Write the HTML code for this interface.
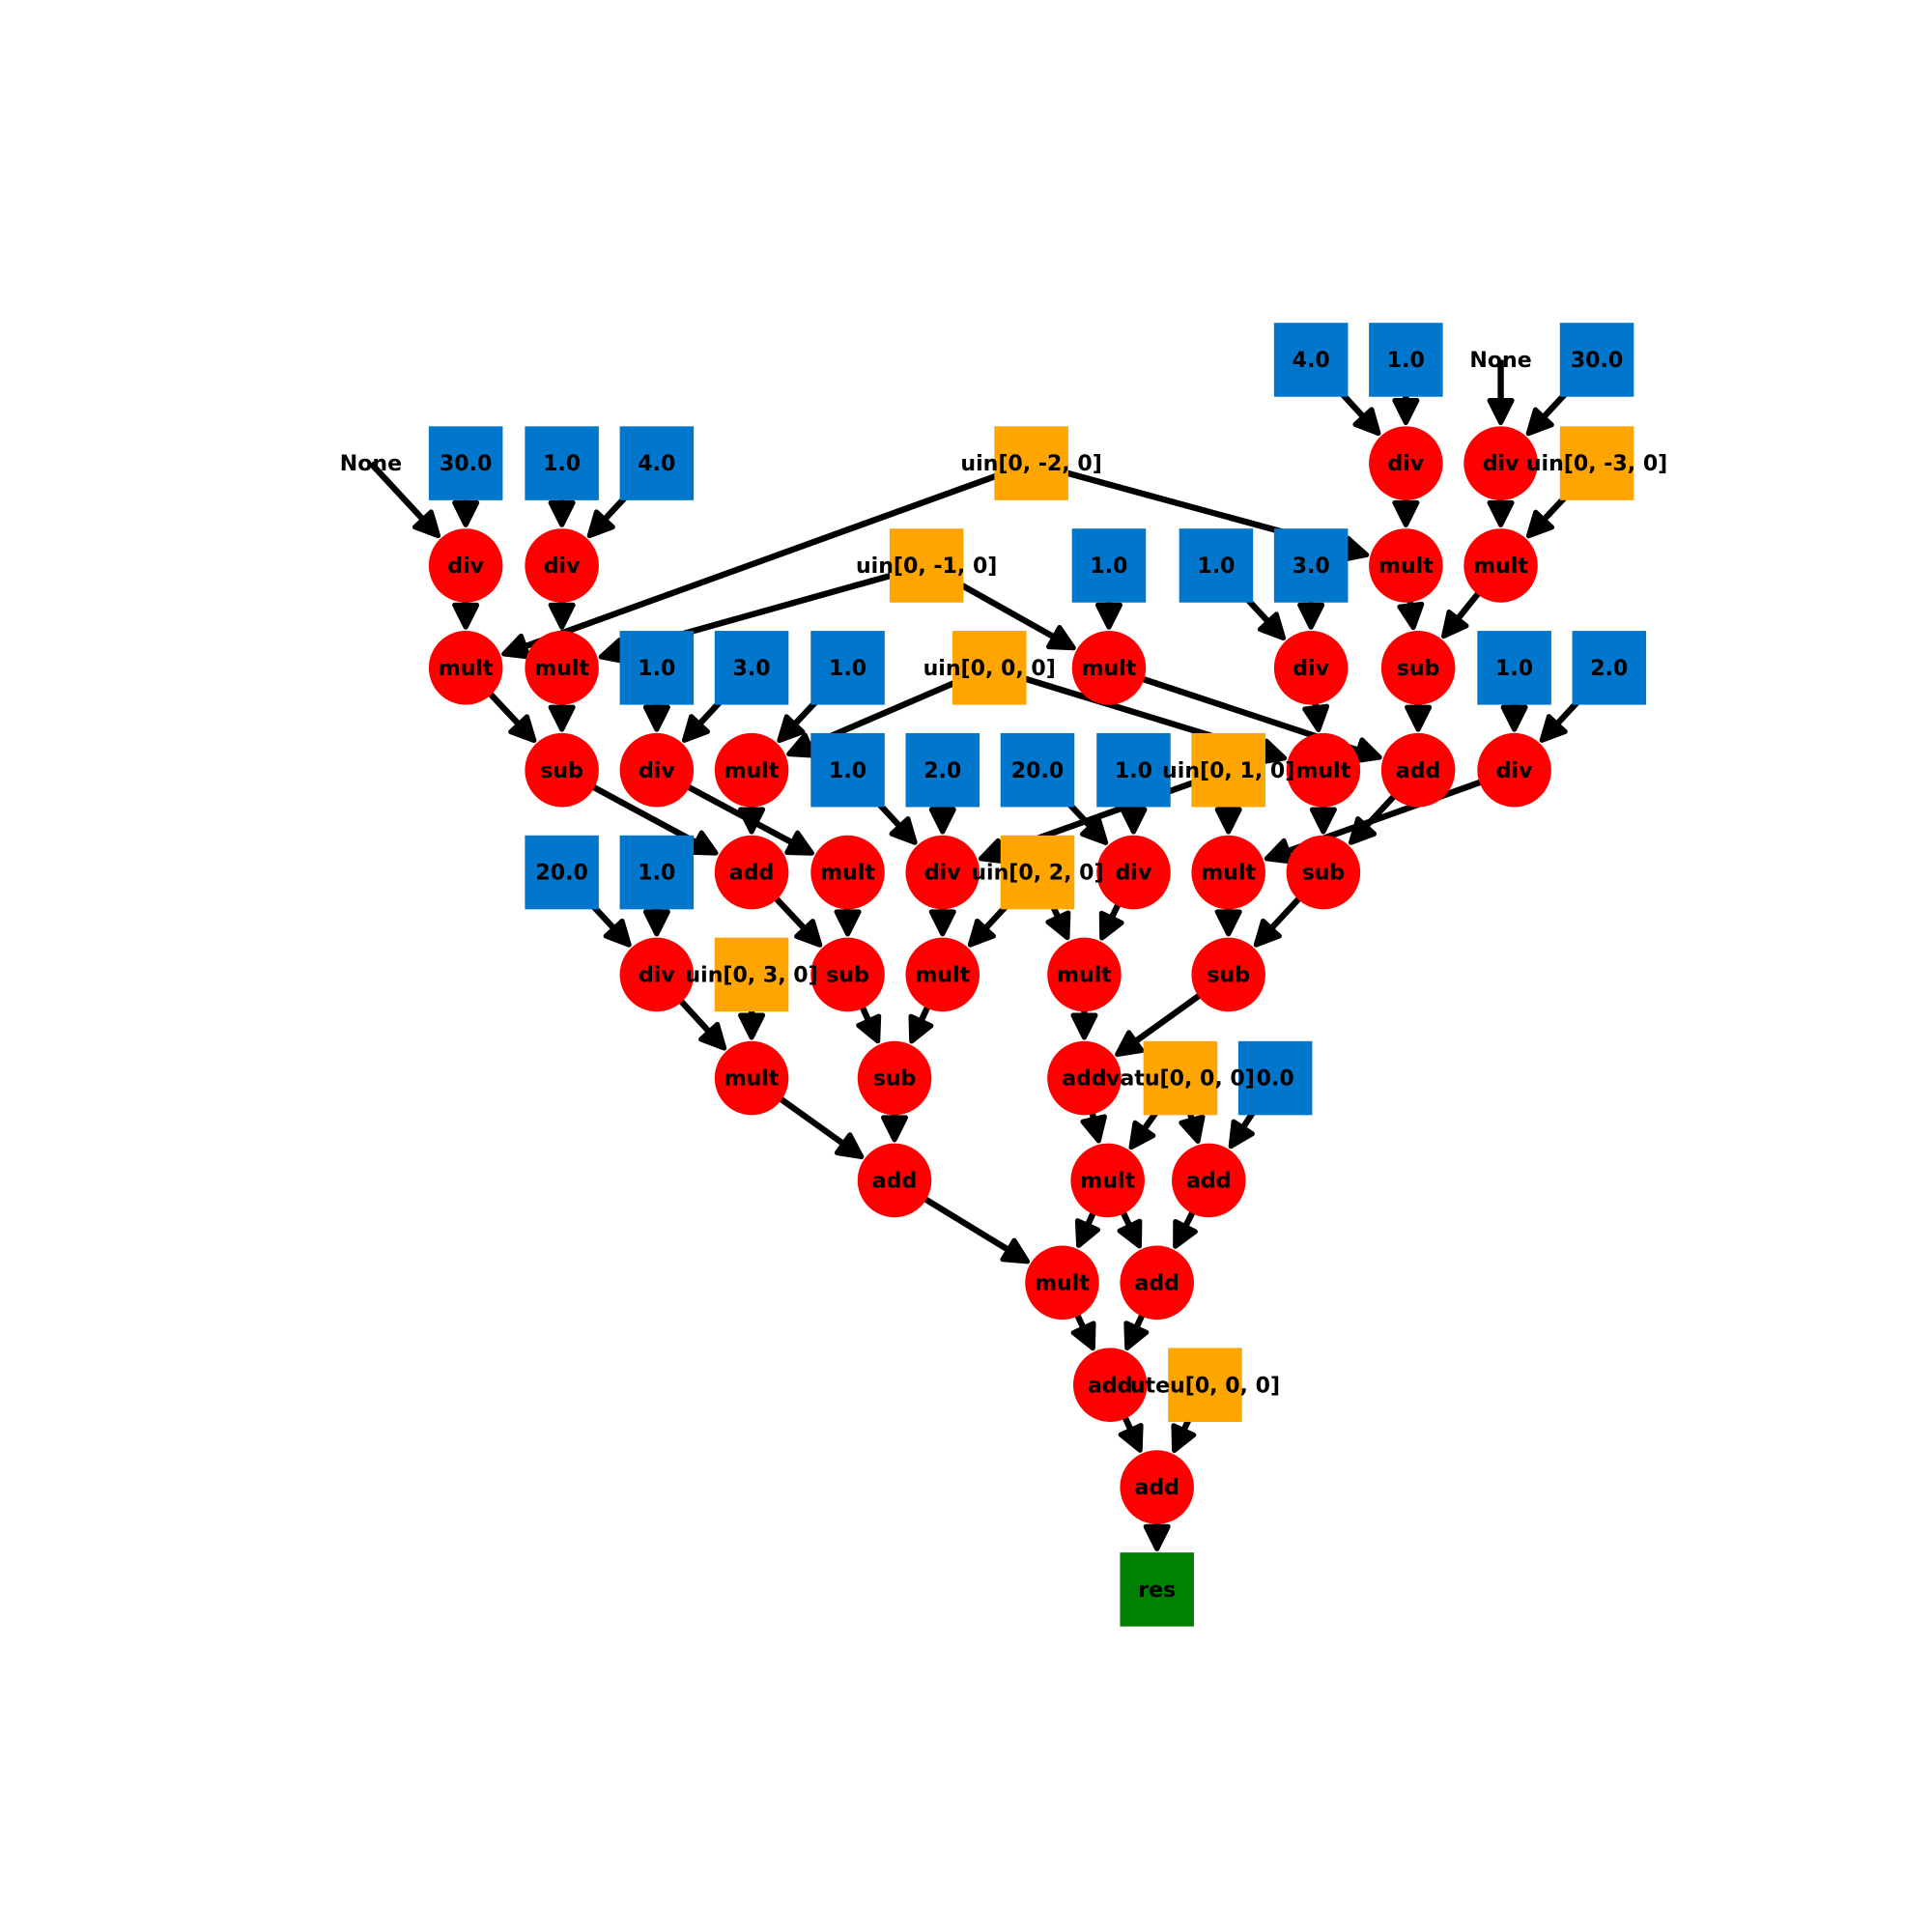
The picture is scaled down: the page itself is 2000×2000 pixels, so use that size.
<!DOCTYPE html>
<html><head><meta charset="utf-8"><style>
html,body{margin:0;padding:0;background:#fff}
svg{display:block}
text{font-family:"DejaVu Sans","Liberation Sans",sans-serif;font-weight:bold;font-size:17.3px;fill:#000}
</style></head><body>
<svg id="g" width="2000" height="2000" viewBox="0 0 1568 1568" xmlns="http://www.w3.org/2000/svg">
<g id="edges"></g>
<g id="nodes"></g>
<g id="labels"></g>
</svg>
<script>
const nodeIds = [];
const nodeLabels = [];
const nodeKinds = [];
const nodeX = [];
const nodeY = [];
const nodeList = [
["b4a","4.0","b",1064,292],["b1a","1.0","b",1141,292],["nA","None","t",1218,292],["b30a","30.0","b",1296,292],
["nB","None","t",301,376],["b30b","30.0","b",378,376],["b1b","1.0","b",456,376],["b4b","4.0","b",533,376],["um2","uin[0, -2, 0]","o",837,376],["dA","div","c",1141,376],["dB","div","c",1218,376],["um3","uin[0, -3, 0]","o",1296,376],
["dC","div","c",378,459],["dD","div","c",456,459],["um1","uin[0, -1, 0]","o",752,459],["b1c","1.0","b",900,459],["b1d","1.0","b",987,459],["b3a","3.0","b",1064,459],["mA","mult","c",1141,459],["mB","mult","c",1218,459],
["mC","mult","c",378,542],["mD","mult","c",456,542],["b1e","1.0","b",533,542],["b3b","3.0","b",610,542],["b1f","1.0","b",688,542],["u0","uin[0, 0, 0]","o",803,542],["mE","mult","c",900,542],["dE","div","c",1064,542],["sA","sub","c",1151,542],["b1g","1.0","b",1229,542],["b2a","2.0","b",1306,542],
["sB","sub","c",456,625],["dF","div","c",533,625],["mF","mult","c",610,625],["b1h","1.0","b",688,625],["b2b","2.0","b",765,625],["b20a","20.0","b",842,625],["b1i","1.0","b",920,625],["u1","uin[0, 1, 0]","o",997,625],["mG","mult","c",1074,625],["aA","add","c",1151,625],["dG","div","c",1229,625],
["b20b","20.0","b",456,708],["b1j","1.0","b",533,708],["aB","add","c",610,708],["mH","mult","c",688,708],["dH","div","c",765,708],["u2","uin[0, 2, 0]","o",842,708],["dI","div","c",920,708],["mI","mult","c",997,708],["sC","sub","c",1074,708],
["dJ","div","c",533,791],["u3","uin[0, 3, 0]","o",610,791],["sD","sub","c",688,791],["mJ","mult","c",765,791],["mK","mult","c",880,791],["sE","sub","c",997,791],
["mL","mult","c",610,875],["sF","sub","c",726,875],["aC","add","c",880,875],["va","vatu[0, 0, 0]","o",958,875],["b0","0.0","b",1035,875],
["aD","add","c",726,958],["mM","mult","c",899,958],["aE","add","c",981,958],
["mN","mult","c",862,1041],["aF","add","c",939,1041],
["aG","add","c",901,1124],["ut","uteu[0, 0, 0]","o",978,1124],
["aH","add","c",939,1207],
["res","res","g",939,1290]
];
const edgeFrom = ["nB","b30b","b1b","b4b","dC","dD","um2","um2","um1","um1","b1c","mC","mD","b1e","b3b","b1f","u0","u0","mE","dE","b1d","b3a","b4a","b1a","nA","b30a","dA","dB","um3","mA","mB","sA","b1g","b2a","sB","dF","mF","b1h","b2b","u1","b20a","b1i","u1","mG","aA","dG","b20b","b1j","aB","mH","dH","u2","u2","dI","mI","sC","dJ","u3","sD","mJ","mK","sE","mL","sF","aC","va","va","b0","aD","mM","mM","aE","mN","aF","aG","ut","aH"];
const edgeTo   = ["dC","dC","dD","dD","mC","mD","mC","mA","mD","mE","mE","sB","sB","dF","dF","mF","mF","mG","aA","mG","dE","dE","dA","dA","dB","dB","mA","mB","mB","sA","sA","aA","dG","dG","aB","mH","aB","dH","dH","dH","dI","dI","mI","sC","sC","mI","dJ","dJ","sD","sD","mJ","mJ","mK","mK","sE","sE","mL","mL","sF","sF","aC","aC","aD","aD","mM","mM","aE","aE","mN","mN","aF","aF","aG","aG","aH","aH","res"];
nodeList.forEach(n=>{nodeIds.push(n[0]);nodeLabels.push(n[1]);nodeKinds.push(n[2]);nodeX.push(n[3]);nodeY.push(n[4]);});
const NS="http://www.w3.org/2000/svg";
const eg=document.getElementById('edges'), ng=document.getElementById('nodes'), lg=document.getElementById('labels');
function idx(id){return nodeIds.indexOf(id);}
for(let k=0;k<edgeFrom.length;k++){
  const a=idx(edgeFrom[k]), b=idx(edgeTo[k]);
  const x1=nodeX[a],y1=nodeY[a],x2=nodeX[b],y2=nodeY[b];
  const dx=x2-x1,dy=y2-y1,L=Math.hypot(dx,dy),ux=dx/L,uy=dy/L;
  const tipx=x2-ux*33, tipy=y2-uy*33;
  const hl=18,hw=9;
  const bx=tipx-ux*hl, by=tipy-uy*hl;
  const g=document.createElementNS(NS,'g');
  
  
  const ln=document.createElementNS(NS,'line');
  ln.setAttribute('x1',x1);ln.setAttribute('y1',y1);ln.setAttribute('x2',bx+ux*2);ln.setAttribute('y2',by+uy*2);
  ln.setAttribute('stroke','#000');ln.setAttribute('stroke-width','5');
  g.appendChild(ln);
  const p=document.createElementNS(NS,'polygon');
  p.setAttribute('points',`${tipx},${tipy} ${bx-uy*hw},${by+ux*hw} ${bx+uy*hw},${by-ux*hw}`);
  p.setAttribute('fill','#000');p.setAttribute('stroke','#000');p.setAttribute('stroke-width','4');p.setAttribute('stroke-linejoin','round');
  g.appendChild(p);
  eg.appendChild(g);
}
const colors={b:'#0077cc',o:'#ffa500',g:'#008000',c:'#ff0000'};
for(let i=0;i<nodeIds.length;i++){
  const x=nodeX[i],y=nodeY[i],k=nodeKinds[i];
  const nm='node-'+nodeLabels[i].replace(/[^a-z0-9]+/gi,'-').toLowerCase();
  if(k==='c'){
    const c=document.createElementNS(NS,'circle');
    
    
    c.setAttribute('cx',x);c.setAttribute('cy',y);c.setAttribute('r',30);c.setAttribute('fill',colors.c);
    ng.appendChild(c);
  } else if(k!=='t'){
    const r=document.createElementNS(NS,'rect');
    
    
    r.setAttribute('x',x-30);r.setAttribute('y',y-30);r.setAttribute('width',60);r.setAttribute('height',60);r.setAttribute('fill',colors[k]);
    ng.appendChild(r);
  }
  const t=document.createElementNS(NS,'text');
  
  
  t.setAttribute('x',x);t.setAttribute('y',y+6);t.setAttribute('text-anchor','middle');
  t.textContent=nodeLabels[i];
  lg.appendChild(t);
}
</script>
</body></html>
